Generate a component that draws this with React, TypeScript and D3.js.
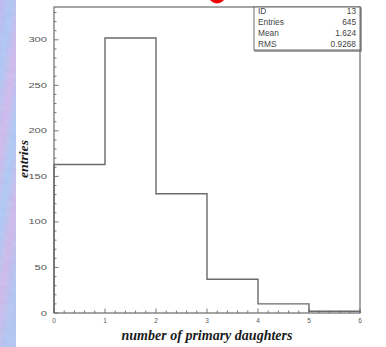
import React from "react";
import * as d3 from "d3";

// Histogram of number of primary daughters (bin edges 0..6)
const binEdges = [0, 1, 2, 3, 4, 5, 6];
const binCounts = [163, 302, 131, 37, 10, 2];
const yTickValues = [0, 50, 100, 150, 200, 250, 300];
const xTickValues = [0, 1, 2, 3, 4, 5, 6];
const statLabels = ["ID", "Entries", "Mean", "RMS"];
const statValues = ["13", "645", "1.624", "0.9268"];

const W = 386;
const H = 347;
const plot = { left: 54, right: 360, top: 7, bottom: 313 };
const ink = "#6a6a6a";
const sans = "'Liberation Sans', Arial, sans-serif";
const serif = "'Liberation Serif', 'DejaVu Serif', serif";

export default function App() {
  const x = d3.scaleLinear().domain([0, 6]).range([plot.left, plot.right]);
  const y = d3.scaleLinear().domain([0, 336]).range([plot.bottom, plot.top]);

  // step outline of the histogram
  const pts: [number, number][] = [[binEdges[0], 0]];
  binCounts.forEach((c, i) => {
    pts.push([binEdges[i], c]);
    pts.push([binEdges[i + 1], c]);
  });
  pts.push([binEdges[binEdges.length - 1], 0]);
  const step = d3
    .line<[number, number]>()
    .x((d) => x(d[0]))
    .y((d) => y(d[1]))(pts) as string;

  const yMinor = d3.range(0, 336, 10);
  const xMinor = d3.range(0, 6.0001, 0.2);

  const box = { x0: 254, x1: 360, y0: plot.top, y1: 50 };
  const rowY = [13.5, 24.5, 35.5, 46.5];

  return (
    <svg
      width={W}
      height={H}
      style={{ position: "absolute", left: 0, top: 0, background: "#fff" }}
    >
      <defs>
        <linearGradient id="strip" x1="0" y1="0" x2="0.3" y2="1">
          <stop offset="0" stopColor="#c4c0f0" />
          <stop offset="0.2" stopColor="#b2cef4" />
          <stop offset="0.4" stopColor="#d4c0ec" />
          <stop offset="0.6" stopColor="#b0d0f4" />
          <stop offset="0.8" stopColor="#d2c0ea" />
          <stop offset="1" stopColor="#b6ccf2" />
        </linearGradient>
        <filter id="marble">
          <feTurbulence type="fractalNoise" baseFrequency="0.15" numOctaves="2" seed="3" />
          <feColorMatrix
            type="matrix"
            values="0 0 0 0 0.9  0 0 0 0 0.78  0 0 0 0 0.98  0 0 0 0.6 0"
          />
          <feComposite in2="SourceGraphic" operator="in" />
          <feBlend in2="SourceGraphic" mode="multiply" />
        </filter>
      </defs>
      <rect x={0} y={0} width={W} height={H} fill="#fff" />
      <rect x={0} y={0} width={16} height={H} fill="url(#strip)" filter="url(#marble)" />
      <circle cx={217} cy={-5} r={8.5} fill="#ee0000" />

      {/* frame */}
      <rect
        x={plot.left}
        y={plot.top}
        width={plot.right - plot.left}
        height={plot.bottom - plot.top}
        fill="none"
        stroke={ink}
        strokeWidth={1.2}
      />

      {/* y ticks */}
      {yMinor.map((v) => (
        <line
          key={"ym" + v}
          x1={plot.left}
          x2={plot.left + (v % 50 === 0 ? 4.5 : 2.5)}
          y1={y(v)}
          y2={y(v)}
          stroke={ink}
          strokeWidth={0.9}
        />
      ))}
      {yTickValues.map((v) => {
        const s = String(v);
        return (
          <text
            key={"yl" + v}
            x={plot.left - 7}
            y={y(v) + 2.5}
            textAnchor="end"
            fontFamily={sans}
            fontSize={7}
            fill="#555"
            textLength={s.length * 6.2}
            lengthAdjust="spacingAndGlyphs"
          >
            {s}
          </text>
        );
      })}

      {/* x ticks */}
      {xMinor.map((v, i) => (
        <line
          key={"xm" + i}
          x1={x(v)}
          x2={x(v)}
          y1={plot.bottom}
          y2={plot.bottom - (i % 5 === 0 ? 4.5 : 2.5)}
          stroke={ink}
          strokeWidth={0.9}
        />
      ))}
      {xTickValues.map((v) => (
        <text
          key={"xl" + v}
          x={x(v)}
          y={plot.bottom + 10}
          textAnchor="middle"
          fontFamily={sans}
          fontSize={6.5}
          fill="#555"
        >
          {v}
        </text>
      ))}

      {/* histogram */}
      <path d={step} fill="none" stroke={ink} strokeWidth={1.4} />

      {/* axis titles */}
      <text
        x={121.5}
        y={340}
        fontFamily={serif}
        fontStyle="italic"
        fontWeight="bold"
        fontSize={14.5}
        fill="#1a1a1a"
        textLength={171}
        lengthAdjust="spacingAndGlyphs"
      >
        number of primary daughters
      </text>
      <text
        transform="translate(28,178) rotate(-90)"
        fontFamily={serif}
        fontStyle="italic"
        fontWeight="bold"
        fontSize={13.5}
        fill="#1a1a1a"
        textLength={38}
        lengthAdjust="spacingAndGlyphs"
      >
        entries
      </text>

      {/* statistics box */}
      <rect
        x={box.x0 + 1}
        y={box.y0 + 1}
        width={box.x1 - box.x0}
        height={box.y1 - box.y0}
        fill="none"
        stroke={ink}
        strokeWidth={1.2}
      />
      <rect
        x={box.x0}
        y={box.y0}
        width={box.x1 - box.x0}
        height={box.y1 - box.y0}
        fill="#fff"
        stroke={ink}
        strokeWidth={1}
      />
      {statLabels.map((s, i) => (
        <g key={s}>
          <text
            x={box.x0 + 4}
            y={rowY[i]}
            fontFamily={sans}
            fontSize={8.3}
            fill="#444"
          >
            {s}
          </text>
          <text
            x={box.x1 - 4}
            y={rowY[i]}
            textAnchor="end"
            fontFamily={sans}
            fontSize={8.3}
            fill="#444"
          >
            {statValues[i]}
          </text>
        </g>
      ))}
    </svg>
  );
}
